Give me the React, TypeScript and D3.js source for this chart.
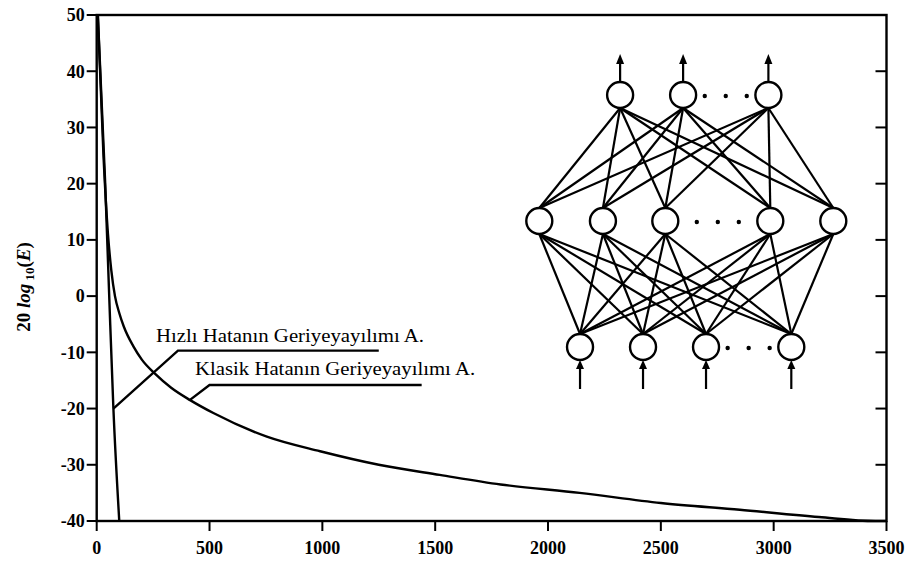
import React from "react";
import * as d3 from "d3";

// ---------- chart data ----------
const xTicks = [0, 500, 1000, 1500, 2000, 2500, 3000, 3500];
const yTicks = [50, 40, 30, 20, 10, 0, -10, -20, -30, -40];
const rightTicks = [40, 30, 20, 10, 0, -10, -20, -30];

// Fast error back-propagation (Hızlı)
const fastX = [5, 37, 55, 74, 100];
const fastY = [50, 20.7, 0.5, -20, -40];

// Classic error back-propagation (Klasik)
const classicX = [5, 30, 50, 65, 81, 100, 120, 162, 200, 258, 330, 414, 517, 754, 990, 1250, 1520, 1790, 2140, 2500, 2850, 3200, 3450, 3500];
const classicY = [50, 25, 11, 4.5, 0, -3, -5.4, -8.9, -11.3, -13.8, -16.3, -18.5, -20.8, -25, -27.6, -30, -31.8, -33.5, -35, -36.8, -38, -39.3, -40, -40];

// annotations
const fastLabel = "Hızlı Hatanın Geriyeyayılımı A.";
const classicLabel = "Klasik Hatanın Geriyeyayılımı A.";
const fastLeaderX = [74, 360, 1250];
const fastLeaderY = [-20, -9.7, -9.7];
const classicLeaderX = [412, 500, 1440];
const classicLeaderY = [-18.5, -15.8, -15.8];
const fastLabelAt = [263, -8.2];
const classicLabelAt = [436, -14.1];

// network inset (slot positions of neurons per layer; layer 0 = output)
const outputSlots = [1.27, 2.26, 3.6];
const hiddenSlots = [0, 1, 1.98, 3.63, 4.62];
const inputSlots = [0.64, 1.63, 2.62, 3.96];

const W = 911;
const H = 562;

export default function App() {
  const x = d3.scaleLinear().domain([0, 3500]).range([96.7, 886.5]);
  const y = d3.scaleLinear().domain([-40, 50]).range([521, 15]);

  const line = d3
    .line<[number, number]>()
    .x((d) => x(d[0]))
    .y((d) => y(d[1]))
    .curve(d3.curveMonotoneX);
  const straight = d3
    .line<[number, number]>()
    .x((d) => x(d[0]))
    .y((d) => y(d[1]));

  const fastPts = fastX.map((v, i) => [v, fastY[i]] as [number, number]);
  const classicPts = classicX.map((v, i) => [v, classicY[i]] as [number, number]);
  const fastLead = fastLeaderX.map((v, i) => [v, fastLeaderY[i]] as [number, number]);
  const classicLead = classicLeaderX.map((v, i) => [v, classicLeaderY[i]] as [number, number]);

  // network scales
  const sx = d3.scaleLinear().domain([0, 4.62]).range([539.3, 833.3]);
  const sy = d3.scaleLinear().domain([0, 2]).range([95, 347]);
  const r = 13;
  const layers = [outputSlots, hiddenSlots, inputSlots];

  const dotsFor = (slots: number[], layer: number) => {
    let gi = 0;
    let gw = 0;
    for (let i = 0; i < slots.length - 1; i++) {
      const w = slots[i + 1] - slots[i];
      if (w > gw) {
        gw = w;
        gi = i;
      }
    }
    const mid = (slots[gi] + slots[gi + 1]) / 2;
    return [-0.33, 0, 0.33].map((o) => ({ cx: sx(mid + o), cy: sy(layer) + 1 }));
  };

  const edges: { x1: number; y1: number; x2: number; y2: number }[] = [];
  for (let l = 0; l < 2; l++) {
    layers[l].forEach((a) => {
      layers[l + 1].forEach((b) => {
        edges.push({ x1: sx(a), y1: sy(l) + r, x2: sx(b), y2: sy(l + 1) - r });
      });
    });
  }

  const serif = "'Liberation Serif', 'Times New Roman', serif";
  const stroke = "#000";
  const sw = 2.4;

  return (
    <svg
      width={W}
      height={H}
      style={{ position: "absolute", left: 0, top: 0, background: "#fff", display: "block" }}
    >
      <rect x={0} y={0} width={W} height={H} fill="#fff" />

      {/* frame */}
      <rect
        x={x(0)}
        y={y(50)}
        width={x(3500) - x(0)}
        height={y(-40) - y(50)}
        fill="none"
        stroke={stroke}
        strokeWidth={sw}
      />

      {/* left ticks + labels */}
      {yTicks.map((t) => (
        <g key={"y" + t}>
          <line x1={x(0) - 10} x2={x(0)} y1={y(t)} y2={y(t)} stroke={stroke} strokeWidth={2} />
          <text
            x={x(0) - 12}
            y={y(t)}
            dy="0.35em"
            textAnchor="end"
            fontFamily={serif}
            fontWeight="bold"
            fontSize={18}
          >
            {t}
          </text>
        </g>
      ))}
      {/* right ticks */}
      {rightTicks.map((t) => (
        <line key={"r" + t} x1={x(3500) - 11} x2={x(3500)} y1={y(t)} y2={y(t)} stroke={stroke} strokeWidth={2} />
      ))}
      {/* bottom ticks + labels */}
      {xTicks.map((t) => (
        <g key={"x" + t}>
          <line x1={x(t)} x2={x(t)} y1={y(-40)} y2={y(-40) + 10} stroke={stroke} strokeWidth={2} />
          <text
            x={x(t)}
            y={554}
            textAnchor="middle"
            fontFamily={serif}
            fontWeight="bold"
            fontSize={18}
          >
            {t}
          </text>
        </g>
      ))}

      {/* y-axis title */}
      <text
        transform={`translate(30,287) rotate(-90)`}
        textAnchor="middle"
        fontFamily={serif}
        fontWeight="bold"
        fontSize={19}
      >
        20 <tspan fontStyle="italic">log</tspan>
        <tspan fontSize={13} dy={4}> 10</tspan>
        <tspan dy={-4}>(</tspan>
        <tspan fontStyle="italic">E</tspan>)
      </text>

      {/* curves */}
      <path d={line(classicPts) || ""} fill="none" stroke={stroke} strokeWidth={sw} />
      <path d={line(fastPts) || ""} fill="none" stroke={stroke} strokeWidth={sw} />

      {/* leaders */}
      <path d={straight(fastLead) || ""} fill="none" stroke={stroke} strokeWidth={sw} />
      <path d={straight(classicLead) || ""} fill="none" stroke={stroke} strokeWidth={sw} />

      <text
        x={x(fastLabelAt[0])}
        y={y(fastLabelAt[1])}
        fontFamily={serif}
        fontSize={18}
        textLength={268}
        lengthAdjust="spacingAndGlyphs"
      >
        {fastLabel}
      </text>
      <text
        x={x(classicLabelAt[0])}
        y={y(classicLabelAt[1])}
        fontFamily={serif}
        fontSize={18}
        textLength={280}
        lengthAdjust="spacingAndGlyphs"
      >
        {classicLabel}
      </text>

      {/* network inset */}
      <g>
        {edges.map((e, i) => (
          <line key={"e" + i} x1={e.x1} y1={e.y1} x2={e.x2} y2={e.y2} stroke={stroke} strokeWidth={2.2} />
        ))}
        {layers.map((slots, l) =>
          slots.map((s, i) => (
            <circle
              key={`n${l}-${i}`}
              cx={sx(s)}
              cy={sy(l)}
              r={r}
              fill="#fff"
              stroke={stroke}
              strokeWidth={sw}
            />
          ))
        )}
        {layers.map((slots, l) =>
          dotsFor(slots, l).map((d, i) => <circle key={`d${l}-${i}`} cx={d.cx} cy={d.cy} r={2.2} fill={stroke} />)
        )}
        {/* output arrows */}
        {outputSlots.map((s, i) => {
          const cx = sx(s);
          const top = sy(0) - r;
          return (
            <g key={"oa" + i}>
              <line x1={cx} x2={cx} y1={top} y2={top - 20} stroke={stroke} strokeWidth={2.2} />
              <path d={`M${cx},${top - 28} L${cx - 4},${top - 18} L${cx + 4},${top - 18} Z`} fill={stroke} />
            </g>
          );
        })}
        {/* input arrows */}
        {inputSlots.map((s, i) => {
          const cx = sx(s);
          const bot = sy(2) + r;
          return (
            <g key={"ia" + i}>
              <line x1={cx} x2={cx} y1={bot + 6} y2={bot + 29} stroke={stroke} strokeWidth={2.2} />
              <path d={`M${cx},${bot} L${cx - 4},${bot + 9} L${cx + 4},${bot + 9} Z`} fill={stroke} />
            </g>
          );
        })}
      </g>
    </svg>
  );
}
